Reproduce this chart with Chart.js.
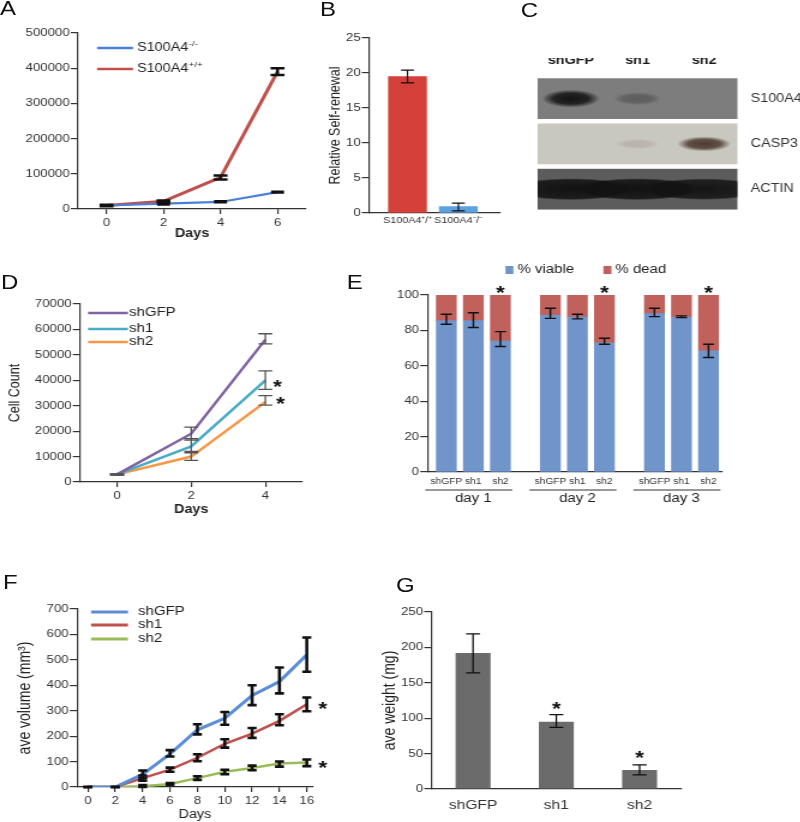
<!DOCTYPE html>
<html lang="en">
<head>
<meta charset="UTF-8">
<title>S100A4 knockdown figure</title>
<script src="https://cdn.jsdelivr.net/npm/chart.js"></script>
<style>
  html, body { margin: 0; padding: 0; background: #fff; overflow: hidden; }
  /* the source figure is stretched sideways, so the whole sheet is too */
  #fig { position: absolute; left: 0; top: 0; width: 667px; height: 822px;
         transform: scaleX(1.2); transform-origin: 0 0;
         font-family: "Liberation Sans", Arial, sans-serif; color: #111; }
  #fig canvas { position: absolute; }
  .letter { position: absolute; font-size: 20px; line-height: 1; }
</style>
</head>
<body>
<div id="fig">
  <div class="letter" style="left:0px;top:-2px">A</div>
  <div class="letter" style="left:266.7px;top:-1px">B</div>
  <div class="letter" style="left:434px;top:0px">C</div>
  <div class="letter" style="left:0.8px;top:272px">D</div>
  <div class="letter" style="left:289px;top:272px">E</div>
  <div class="letter" style="left:2.5px;top:572px">F</div>
  <div class="letter" style="left:330px;top:575px">G</div>
  <canvas id="cA"></canvas>
  <canvas id="cB"></canvas>
  <canvas id="cC"></canvas>
  <canvas id="cD"></canvas>
  <canvas id="cE"></canvas>
  <canvas id="cF"></canvas>
  <canvas id="cG"></canvas>
</div>

<script>
  const S = 1.2;
  const AX = '#333', TX = '#333';

  // ---- A: growth, S100A4 -/- vs +/+
  const daysA = [0, 2, 4, 6];
  const koA = [10000, 15000, 20000, 48000];
  const koLoA = [9000, 13000, 19000, 47000];
  const koHiA = [11000, 16000, 22000, 49000];
  const wtA = [10000, 22000, 90000, 390000];
  const wtLoA = [8000, 20000, 84000, 381000];
  const wtHiA = [12000, 24000, 95000, 400000];

  // ---- B: relative self-renewal
  const groupsB = ['S100A4\u207A/\u207A', 'S100A4\u207B/\u207B'];
  const renewB = [19.5, 0.9];
  const renewLoB = [18.6, 0.3];
  const renewHiB = [20.4, 1.4];

  // ---- C: western blot (band strength 0..1)
  const lanesC = ['shGFP', 'sh1', 'sh2'];
  const proteinsC = ['S100A4', 'CASP3', 'ACTIN'];
  const s100a4C = [1.0, 0.3, 0.0];
  const casp3C = [0.0, 0.12, 0.85];
  const actinC = [1.0, 1.0, 0.95];

  // ---- D: cell count
  const daysD = [0, 2, 4];
  const shGfpD = [3000, 19000, 56000];
  const shGfpLoD = [2700, 16500, 54300];
  const shGfpHiD = [3300, 21600, 58300];
  const sh1D = [3000, 14000, 40000];
  const sh1LoD = [2700, 12000, 36400];
  const sh1HiD = [3300, 17000, 43700];
  const sh2D = [3000, 10000, 31500];
  const sh2LoD = [2700, 8500, 30200];
  const sh2HiD = [3300, 11500, 34000];

  // ---- E: viability
  const dayLabelsE = ['day 1', 'day 2', 'day 3'];
  const lanesE = ['shGFP', 'sh1', 'sh2'];
  const viableE = [85.5, 85.5, 74, 88.5, 87.5, 73, 89.5, 87.5, 68.5];
  const deadE = [14.5, 14.5, 26, 11.5, 12.5, 27, 10.5, 12.5, 31.5];
  const viableLoE = [83.5, 81.6, 70.9, 86.8, 86.5, 72.2, 87.8, 87.2, 64.7];
  const viableHiE = [89.1, 90, 79.3, 92.5, 89.1, 75.6, 92.5, 88.2, 72.2];

  // ---- F: tumour volume
  const daysF = [0, 2, 4, 6, 8, 10, 12, 14, 16];
  const shGfpF = [0, 0, 50, 130, 225, 270, 360, 415, 520];
  const shGfpLoF = [0, 0, 35, 120, 207, 245, 322, 368, 453];
  const shGfpHiF = [0, 0, 65, 145, 247, 295, 400, 470, 588];
  const sh1F = [0, 0, 35, 68, 115, 170, 210, 260, 325];
  const sh1LoF = [0, 0, 25, 60, 101, 155, 193, 243, 298];
  const sh1HiF = [0, 0, 45, 76, 129, 188, 232, 286, 352];
  const sh2F = [0, 0, 3, 12, 35, 60, 75, 92, 96];
  const sh2LoF = [0, 0, 0, 8, 28, 50, 66, 80, 82];
  const sh2HiF = [0, 0, 8, 16, 42, 68, 84, 100, 108];

  // ---- G: tumour weight
  const groupsG = ['shGFP', 'sh1', 'sh2'];
  const weightG = [192, 95, 27];
  const weightLoG = [164, 87, 20];
  const weightHiG = [219, 105, 34];

  Chart.defaults.font.family = '"Liberation Sans", Arial, sans-serif';
  Chart.defaults.color = TX;
  Chart.defaults.plugins.legend.display = false;
  Chart.defaults.plugins.tooltip.enabled = false;
  Chart.defaults.animation = false;

  const xy = (xs, ys) => xs.map((x, i) => ({ x, y: ys[i] }));

  // error bars, stars, in-plot legends, group rules and blot drawing
  const figPlugin = {
    id: 'fig',
    beforeDatasetsDraw(chart, args, o) {
      if (!o.blot) return;
      const ctx = chart.ctx, a = chart.chartArea, ys = chart.scales.y;
      const h = a.height / ys.getLabels().length;
      ys.getLabels().forEach((p, r) => {
        const yc = ys.getPixelForValue(r);
        ctx.fillStyle = o.blot.bg[r];
        ctx.fillRect(a.left, yc - h / 2 + o.blot.gap / 2, a.width, h - o.blot.gap);
      });
    },
    afterDatasetsDraw(chart, args, o) {
      const ctx = chart.ctx, org = o.origin || { x: 0, y: 0 };
      const px = x => (x - org.x) / S, py = y => y - org.y;

      if (o.blot) {
        const B = o.blot, a = chart.chartArea, ys = chart.scales.y;
        const h = a.height / ys.getLabels().length;
        chart.data.datasets.forEach((ds, r) => {
          const yc = ys.getPixelForValue(r);
          ctx.save();
          ctx.beginPath();
          ctx.rect(a.left, yc - h / 2 + B.gap / 2, a.width, h - B.gap);
          ctx.clip();
          chart.getDatasetMeta(r).data.forEach((el, i) => {
            const v = ds.data[i].v;
            if (!v) return;
            ctx.save();
            ctx.translate(el.x, el.y);
            ctx.scale(B.rx[r] / S * (0.75 + 0.25 * v), B.ry[r] * (0.6 + 0.4 * v));
            const g = ctx.createRadialGradient(0, 0, 0, 0, 0, 1);
            const c = B.ink[r];
            g.addColorStop(0, `rgba(${c},${v})`);
            g.addColorStop(B.flat[r], `rgba(${c},${v * 0.85})`);
            g.addColorStop(1, `rgba(${c},0)`);
            ctx.fillStyle = g;
            ctx.beginPath();
            ctx.arc(0, 0, 1, 0, Math.PI * 2);
            ctx.fill();
            ctx.restore();
          });
          ctx.restore();
        });
      }

      chart.data.datasets.forEach((ds, di) => {
        if (!ds.err) return;
        const meta = chart.getDatasetMeta(di), ys = chart.scales[meta.yAxisID];
        const c = ds.err.cap / S / 2;
        ctx.save();
        ctx.strokeStyle = ds.err.color;
        ctx.lineWidth = ds.err.width;
        meta.data.forEach((el, i) => {
          const y1 = ys.getPixelForValue(ds.err.lo[i]), y2 = ys.getPixelForValue(ds.err.hi[i]);
          ctx.beginPath();
          ctx.moveTo(el.x, y1); ctx.lineTo(el.x, y2);
          ctx.moveTo(el.x - c, y1); ctx.lineTo(el.x + c, y1);
          ctx.moveTo(el.x - c, y2); ctx.lineTo(el.x + c, y2);
          ctx.stroke();
        });
        ctx.restore();
      });

      (o.stars || []).forEach(s => {
        const meta = chart.getDatasetMeta(s.ds), el = meta.data[s.i];
        const ds = chart.data.datasets[s.ds], ys = chart.scales[meta.yAxisID];
        const y = (s.at === 'hi' ? ys.getPixelForValue(ds.err.hi[s.i]) : el.y) + (s.dy || 0);
        const sz = s.size || 20;
        ctx.save();
        ctx.font = `bold ${sz}px "Liberation Sans"`;
        ctx.textAlign = 'center';
        ctx.textBaseline = 'alphabetic';
        ctx.fillStyle = '#111';
        ctx.fillText('*', el.x + (s.dx || 0) / S, y + 0.6 * sz);
        ctx.restore();
      });

      if (o.legend) {
        const L = o.legend;
        ctx.save();
        chart.data.datasets.forEach((ds, i) => {
          const p = L.at[i];
          if (!p) return;
          const x = px(p[0]), y = py(p[1]);
          let tx;
          if (L.kind === 'box') {
            ctx.fillStyle = ds.backgroundColor;
            ctx.fillRect(x, y - L.box / 2, L.box / S, L.box);
            tx = x + (L.box + L.gap) / S;
          } else {
            ctx.strokeStyle = ds.borderColor;
            ctx.lineWidth = L.width;
            ctx.beginPath(); ctx.moveTo(x, y); ctx.lineTo(x + L.len / S, y); ctx.stroke();
            tx = x + (L.len + L.gap) / S;
          }
          ctx.fillStyle = '#222';
          ctx.textBaseline = 'middle';
          ctx.textAlign = 'left';
          ctx.font = `${L.size}px "Liberation Sans"`;
          ctx.fillText(ds.label, tx, y);
          if (ds.sup) {
            const w = ctx.measureText(ds.label).width;
            ctx.font = `${Math.round(L.size * 0.65)}px "Liberation Sans"`;
            ctx.fillText(ds.sup, tx + w + 0.5, y - L.size * 0.33);
          }
        });
        ctx.restore();
      }

      if (o.groups) {
        const G = o.groups, meta = chart.getDatasetMeta(0);
        ctx.save();
        ctx.strokeStyle = '#333';
        ctx.lineWidth = 1;
        ctx.fillStyle = '#222';
        ctx.font = `${G.size}px "Liberation Sans"`;
        ctx.textAlign = 'center';
        ctx.textBaseline = 'middle';
        G.members.forEach((m, g) => {
          const x1 = meta.data[m[0]].x - G.left / S;
          const x2 = meta.data[m[m.length - 1]].x + G.right / S;
          ctx.beginPath(); ctx.moveTo(x1, py(G.lineY)); ctx.lineTo(x2, py(G.lineY)); ctx.stroke();
          ctx.fillText(G.labels[g], meta.data[m[Math.floor(m.length / 2)]].x, py(G.textY));
        });
        ctx.restore();
      }
    }
  };
  Chart.register(figPlugin);

  function axisX(o) {
    const sc = {
      type: o.type || 'linear', position: o.position || 'bottom', offset: !!o.offset,
      grid: { display: true, drawOnChartArea: false, drawTicks: o.marks !== false, tickLength: 5,
              color: AX, lineWidth: 1.2, offset: !!o.offset },
      border: { display: o.border !== false, color: AX, width: 1.2 },
      ticks: { color: TX, font: { size: o.size || 11, weight: o.weight || 'normal' },
               padding: o.pad === undefined ? 2 : o.pad, maxRotation: 0, autoSkip: false },
      title: { display: !!o.title, text: o.title || '', color: '#222',
               font: { size: 12, weight: o.bold ? 'bold' : 'normal' }, padding: 0 }
    };
    if (o.min !== undefined) { sc.min = o.min; sc.max = o.max; }
    if (o.labels) sc.labels = o.labels;
    if (o.ticksAt) sc.afterBuildTicks = s => { s.ticks = o.ticksAt.map(v => ({ value: v })); };
    if (o.cb) sc.ticks.callback = o.cb;
    if (o.stacked) sc.stacked = true;
    if (o.z) sc.z = o.z;
    return sc;
  }

  function axisY(o) {
    return {
      type: 'linear', position: 'left', min: o.min, max: o.max, stacked: !!o.stacked,
      grid: { display: true, drawOnChartArea: false, drawTicks: true, tickLength: 6, color: AX, lineWidth: 1.2 },
      border: { display: true, color: AX, width: 1.2 },
      ticks: { stepSize: o.step, color: TX, font: { size: 11 }, padding: 1, callback: v => v },
      title: { display: !!o.title, text: o.title || '', color: '#222',
               font: { size: o.titleSize || 12.5 }, padding: { top: o.titlePad || 0, bottom: 0 } }
    };
  }

  // box: chart area and margins in page pixels
  function build(id, box, config) {
    const cv = document.getElementById(id);
    const x0 = box.l - box.ml, y0 = box.t - box.mt;
    cv.style.left = (x0 / S) + 'px';
    cv.style.top = y0 + 'px';
    cv.width = Math.round((box.r + box.mr - x0) / S);
    cv.height = box.b + box.mb - y0;
    const o = config.options;
    o.responsive = false;
    o.animation = false;
    const sides = {};
    Object.values(o.scales).forEach(sc => {
      const pos = sc.position;
      sides[pos] = true;
      sc.afterFit = s => {
        if (pos === 'left') s.width = box.ml / S;
        else if (pos === 'right') s.width = box.mr / S;
        else if (pos === 'top') s.height = box.mt;
        else s.height = box.mb;
      };
    });
    o.layout = {
      autoPadding: false,
      padding: {
        left: sides.left ? 0 : box.ml / S,
        right: sides.right ? 0 : box.mr / S,
        top: sides.top ? 0 : box.mt,
        bottom: sides.bottom ? 0 : box.mb
      }
    };
    o.plugins = o.plugins || {};
    o.plugins.fig = Object.assign({}, o.plugins.fig, { origin: { x: x0, y: y0 } });
    return new Chart(cv, config);
  }

  // A
  build('cA', { l: 78, t: 33, r: 306, b: 209, ml: 78, mt: 15, mr: 12, mb: 32 }, {
    type: 'line',
    data: { datasets: [
      { label: 'S100A4', sup: '-/-', data: xy(daysA, koA), borderColor: '#4a80d8', borderWidth: 2.2,
        pointRadius: 0, err: { lo: koLoA, hi: koHiA, color: '#111', width: 2.5, cap: 13 } },
      { label: 'S100A4', sup: '+/+', data: xy(daysA, wtA), borderColor: '#c0504d', borderWidth: 3,
        pointRadius: 0, err: { lo: wtLoA, hi: wtHiA, color: '#111', width: 2.5, cap: 14 } }
    ] },
    options: {
      scales: {
        x: axisX({ min: -1, max: 7, ticksAt: daysA, title: 'Days', bold: true }),
        y: axisY({ min: 0, max: 500000, step: 100000 })
      },
      plugins: { fig: { legend: { kind: 'line', at: [[97, 48], [97, 69]], len: 36, gap: 4, size: 12, width: 2.5 } } }
    }
  });

  // B
  build('cB', { l: 369, t: 38, r: 500, b: 213, ml: 45, mt: 12, mr: 8, mb: 18 }, {
    type: 'bar',
    data: { datasets: [{
      data: groupsB.map((g, i) => ({ x: i + 1, y: renewB[i] })),
      backgroundColor: ['#d5413a', '#5ba2df'], barThickness: 38 / S,
      err: { lo: renewLoB, hi: renewHiB, color: '#111', width: 1.2, cap: 13 }
    }] },
    options: {
      scales: {
        x: axisX({ min: 0.245, max: 2.81, ticksAt: groupsB.map((g, i) => i + 1), marks: false,
                   size: 9, pad: 2, cb: (v, i) => groupsB[i] }),
        y: axisY({ min: 0, max: 25, step: 5, title: 'Relative Self-renewal', titlePad: 2, titleSize: 12.5 })
      }
    }
  });

  // C
  const bandsC = [s100a4C, casp3C, actinC];
  build('cC', { l: 537, t: 76, r: 737, b: 222, ml: 0, mt: 18, mr: 63, mb: 0 }, {
    type: 'scatter',
    data: { datasets: proteinsC.map((p, r) => ({
      label: p, pointRadius: 0,
      data: lanesC.map((lane, i) => ({ x: lane, y: p, v: bandsC[r][i] }))
    })) },
    options: {
      scales: {
        x: { type: 'category', labels: lanesC, position: 'top', offset: true,
             grid: { display: false }, border: { display: false },
             ticks: { color: '#1a1a1a', font: { size: 12, weight: 'bold' }, padding: 0 } },
        y: { type: 'category', labels: proteinsC, position: 'right', offset: true,
             grid: { display: false }, border: { display: false },
             ticks: { color: '#333', font: { size: 12 }, padding: 3 } }
      },
      plugins: { fig: { blot: {
        bg: ['#7d7d7d', '#c9c8c0', '#5c5c5c'], gap: 4.5,
        ink: ['20,20,20', '58,34,24', '18,18,18'],
        rx: [29, 28, 62], ry: [9, 8, 11], flat: [0.6, 0.6, 0.85]
      } } }
    }
  });

  // D
  build('cD', { l: 80, t: 304, r: 302, b: 482, ml: 80, mt: 12, mr: 30, mb: 35 }, {
    type: 'line',
    data: { datasets: [
      { label: 'shGFP', data: xy(daysD, shGfpD), borderColor: '#8064a2', borderWidth: 2.5, pointRadius: 0,
        err: { lo: shGfpLoD, hi: shGfpHiD, color: '#555', width: 1.3, cap: 14 } },
      { label: 'sh1', data: xy(daysD, sh1D), borderColor: '#4bacc6', borderWidth: 2.5, pointRadius: 0,
        err: { lo: sh1LoD, hi: sh1HiD, color: '#555', width: 1.3, cap: 14 } },
      { label: 'sh2', data: xy(daysD, sh2D), borderColor: '#f79646', borderWidth: 2.5, pointRadius: 0,
        err: { lo: sh2LoD, hi: sh2HiD, color: '#555', width: 1.3, cap: 14 } }
    ] },
    options: {
      scales: {
        x: axisX({ min: -1, max: 5, ticksAt: daysD, title: 'Days', bold: true }),
        y: axisY({ min: 0, max: 70000, step: 10000, title: 'Cell Count', titlePad: 5 })
      },
      plugins: { fig: {
        legend: { kind: 'line', at: [[88, 313], [88, 329], [88, 342]], len: 40, gap: 1, size: 12.5, width: 2.5 },
        stars: [{ ds: 1, i: 2, dx: 12, dy: 1, size: 19 }, { ds: 2, i: 2, dx: 15, dy: -3, size: 19 }]
      } }
    }
  });

  // E
  const posE = dayLabelsE.flatMap((d, g) => lanesE.map((l, i) => g * (lanesE.length + 0.85) + i));
  build('cE', { l: 427, t: 295, r: 721, b: 472, ml: 47, mt: 37, mr: 10, mb: 38 }, {
    type: 'bar',
    data: { datasets: [
      { label: '% viable', data: posE.map((x, k) => ({ x, y: viableE[k] })), backgroundColor: '#7095cb',
        barThickness: 20 / S, err: { lo: viableLoE, hi: viableHiE, color: '#111', width: 1.4, cap: 11 } },
      { label: '% dead', data: posE.map((x, k) => ({ x, y: deadE[k] })), backgroundColor: '#c1615c',
        barThickness: 20 / S }
    ] },
    options: {
      scales: {
        x: axisX({ min: -0.7, max: 10.2, ticksAt: posE, marks: false, size: 8.5, pad: 5, stacked: true,
                   cb: (v, i) => lanesE[i % lanesE.length] }),
        y: axisY({ min: 0, max: 100, step: 20, stacked: true })
      },
      plugins: { fig: {
        legend: { kind: 'box', at: [[505, 270], [603, 270]], box: 8, gap: 4, size: 12.5 },
        stars: [2, 5, 8].map(i => ({ ds: 1, i, dy: -7, size: 19 })),
        groups: { labels: dayLabelsE, members: dayLabelsE.map((d, g) => lanesE.map((l, i) => g * lanesE.length + i)),
                  lineY: 490, textY: 499, left: 21, right: 12, size: 12.5 }
      } }
    }
  });

  // F
  build('cF', { l: 77, t: 609, r: 313, b: 787, ml: 77, mt: 14, mr: 28, mb: 35 }, {
    type: 'line',
    data: { datasets: [
      { label: 'shGFP', data: xy(daysF, shGfpF), borderColor: '#5b8ed6', borderWidth: 3, pointRadius: 0,
        err: { lo: shGfpLoF, hi: shGfpHiF, color: '#111', width: 2.6, cap: 9 } },
      { label: 'sh1', data: xy(daysF, sh1F), borderColor: '#c0504d', borderWidth: 2.5, pointRadius: 0,
        err: { lo: sh1LoF, hi: sh1HiF, color: '#111', width: 2.6, cap: 9 } },
      { label: 'sh2', data: xy(daysF, sh2F), borderColor: '#9bbb59', borderWidth: 2.5, pointRadius: 0,
        err: { lo: sh2LoF, hi: sh2HiF, color: '#111', width: 2.6, cap: 9 } }
    ] },
    options: {
      scales: {
        x: axisX({ min: -0.8, max: 16.44, ticksAt: daysF, title: 'Days', z: 1 }),
        y: axisY({ min: 0, max: 700, step: 100, title: 'ave volume (mm\u00B3)', titlePad: 13, titleSize: 14 })
      },
      plugins: { fig: {
        legend: { kind: 'line', at: [[91, 612], [91, 625], [91, 639]], len: 37, gap: 10, size: 12.5, width: 3 },
        stars: [{ ds: 1, i: 8, dx: 16, dy: -1, size: 19 }, { ds: 2, i: 8, dx: 16, dy: 0, size: 19 }]
      } }
    }
  });

  // G
  build('cG', { l: 431, t: 612, r: 681, b: 789, ml: 51, mt: 14, mr: 10, mb: 30 }, {
    type: 'bar',
    data: { labels: groupsG, datasets: [{
      data: weightG, backgroundColor: '#6b6b6b', barPercentage: 0.42, categoryPercentage: 1,
      err: { lo: weightLoG, hi: weightHiG, color: '#111', width: 1.3, cap: 14 }
    }] },
    options: {
      scales: {
        x: axisX({ type: 'category', offset: true, marks: false, size: 13, pad: 9 }),
        y: axisY({ min: 0, max: 250, step: 50, title: 'ave weight (mg)', titlePad: 0, titleSize: 14 })
      },
      plugins: { fig: {
        stars: [{ ds: 0, i: 1, at: 'hi', dy: -11, size: 19 }, { ds: 0, i: 2, at: 'hi', dy: -12, size: 19 }]
      } }
    }
  });
</script>
</body>
</html>
